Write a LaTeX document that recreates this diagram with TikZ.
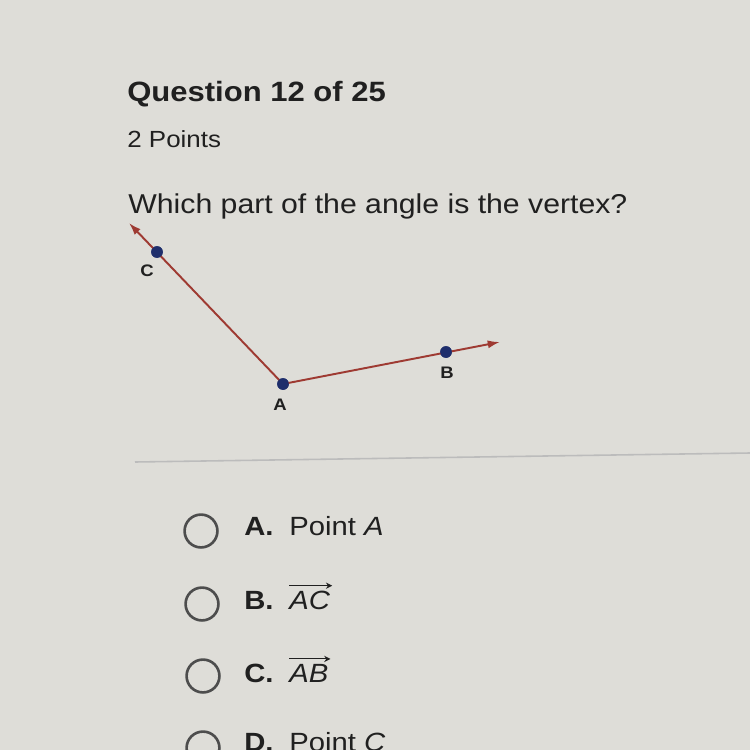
\documentclass[tikz,border=0pt]{standalone}
\usepackage{fontspec}
\setmainfont{Liberation Sans}[FakeStretch=1.11]
\usetikzlibrary{arrows.meta}

\definecolor{screen}{RGB}{222,221,216}
\definecolor{raycol}{RGB}{158,58,50}
\definecolor{dotcol}{RGB}{30,46,108}
\definecolor{inkcol}{RGB}{32,32,32}

\begin{document}
\begin{tikzpicture}
  [x=0.02cm,y=-0.02cm,
   pt/.style={circle,fill=dotcol,inner sep=0pt,minimum size=6.6pt},
   ray/.style={draw=raycol,line width=1.1pt,-{Latex[length=7pt,width=4.6pt]}},
   lbl/.style={text=inkcol,font=\fontsize{9.5}{11}\selectfont\bfseries},
   txt/.style={text=inkcol,anchor=base west,inner sep=0pt},
   opt/.style={txt,font=\fontsize{15}{18}\selectfont},
   overray/.style={draw=inkcol,line width=0.6pt,-{Stealth[length=3.6pt,width=3.6pt]}},
   choice/.style={circle,draw=inkcol!80,line width=1.5pt,minimum size=18.7pt,inner sep=0pt}]
  \useasboundingbox (0,0) rectangle (750,750);
  \clip (0,0) rectangle (750,750);
  \fill[screen] (0,0) rectangle (750,750);

  \node[txt,font=\fontsize{15.9}{19}\selectfont\bfseries] (title) at (127,102) {Question 12 of 25};
  \node[txt,font=\fontsize{13.3}{16}\selectfont] (points) at (127,147) {2 Points};
  \node[txt,font=\fontsize{15.5}{19}\selectfont] (ask) at (128,213) {Which part of the angle is the vertex?};

  % the angle
  \node[pt] (a) at (283,384) {};
  \node[pt] (b) at (446,352) {};
  \node[pt] (c) at (157,252) {};
  \coordinate (btip) at (500,342);
  \coordinate (ctip) at (129,223);
  \node[lbl] (la) at (280,405) {A};
  \node[lbl] (lb) at (447,373) {B};
  \node[lbl] (lc) at (147,271) {C};

  \foreach \to in {btip,ctip}
    \draw[ray] (a.center) -- (\to);
  \foreach \p in {a,b,c}
    \node[pt] at (\p) {};

  \draw[inkcol!30,line width=0.9pt] (135,462) -- (750,453);

  % answer choices
  \node[choice] (oA) at (201,531) {};
  \node[choice] (oB) at (202,604) {};
  \node[choice] (oC) at (203,676) {};
  \node[choice] (oD) at (203,748) {};
  \foreach \l/\y in {A/535,B/609,C/682,D/751}
    \node[opt,font=\fontsize{15}{18}\selectfont\bfseries] (k\l) at (244,\y) {\l.};
  \node[opt] (tA) at (289,535) {Point \textit{A}};
  \node[opt] (tB) at (289,609) {\textit{AC}};
  \node[opt] (tC) at (289,682) {\textit{AB}};
  \node[opt] (tD) at (289,751) {Point \textit{C}};
  \foreach \r in {tB,tC}
    \draw[overray] ([yshift=2.6pt]\r.north west) -- ([yshift=2.6pt,xshift=1pt]\r.north east);
\end{tikzpicture}
\end{document}
